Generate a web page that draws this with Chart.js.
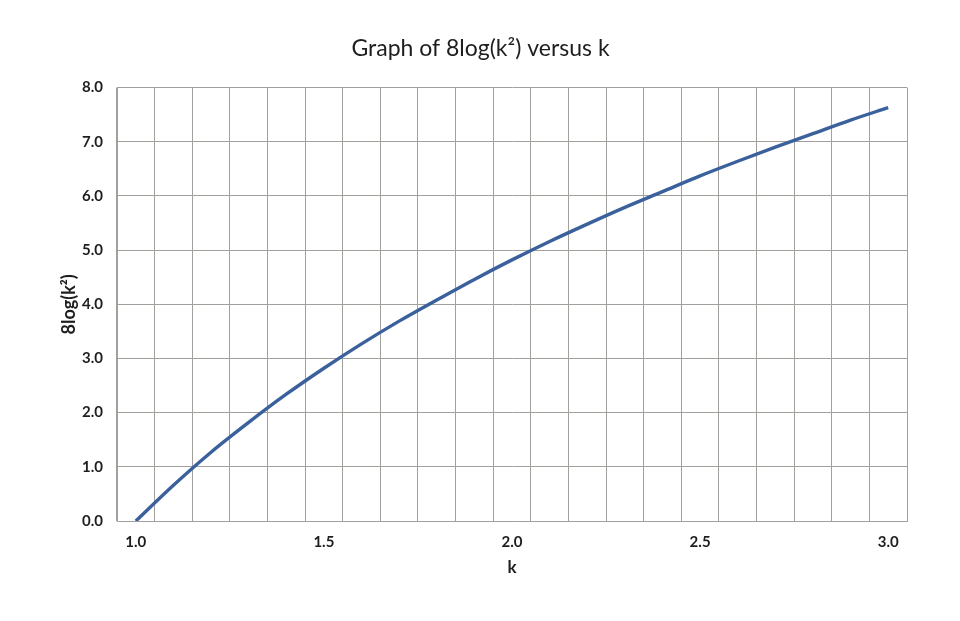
<!DOCTYPE html>
<html>
<head>
<meta charset="utf-8">
<script src="https://cdn.jsdelivr.net/npm/chart.js@4"></script>
<style>
  html, body { margin: 0; padding: 0; background: #fff; }
  canvas { display: block; }
</style>
</head>
<body>
<canvas id="kChart" width="960" height="621"></canvas>
<script>
// values
const kLabels = ['1.0', '1.1', '1.2', '1.3', '1.4', '1.5', '1.6', '1.7', '1.8', '1.9', '2.0',
                 '2.1', '2.2', '2.3', '2.4', '2.5', '2.6', '2.7', '2.8', '2.9', '3.0'];
const logValues = [0.00, 0.66, 1.27, 1.82, 2.34, 2.82, 3.27, 3.69, 4.08, 4.46, 4.82,
                   5.16, 5.48, 5.79, 6.08, 6.37, 6.64, 6.90, 7.15, 7.40, 7.63];
const yTicks = [0, 1, 2, 3, 4, 5, 6, 7, 8];

const gridColor = '#a39f9b';
const textColor = '#1e1e1e';
const fontName = 'Lato, "Open Sans", sans-serif';

const config = {
    type: 'line',
    data: {
        labels: kLabels,
        datasets: [{
            data: logValues,
            borderColor: '#3b619d',
            borderWidth: 3.4,
            pointRadius: 0,
            cubicInterpolationMode: 'monotone',
            fill: false
        }]
    },
    options: {
        responsive: false,
        animation: false,
        layout: { padding: { left: 54, right: 53, top: 10, bottom: 43 } },
        plugins: {
            legend: { display: false },
            tooltip: { enabled: false },
            title: {
                display: true,
                text: 'Graph of 8log(k²) versus k',
                color: textColor,
                font: { family: fontName, size: 23, weight: 'normal' },
                padding: { top: 25, bottom: 25 }
            }
        },
        scales: {
            x: {
                type: 'category',
                offset: true,
                afterFit: (s) => { s.height = 57; },
                grid: { offset: true, color: gridColor, lineWidth: 1, drawTicks: false },
                border: { color: gridColor, width: 1 },
                ticks: {
                    autoSkip: false,
                    maxRotation: 0,
                    padding: 12,
                    color: textColor,
                    font: { family: fontName, size: 15, weight: 'bold' },
                    callback: (v, i) => (i % 5 === 0 ? kLabels[i] : '')
                },
                title: {
                    display: true,
                    text: 'k',
                    color: textColor,
                    font: { family: fontName, size: 17, weight: 'bold' },
                    padding: { top: 4, bottom: 0 }
                }
            },
            y: {
                min: yTicks[0],
                max: yTicks[yTicks.length - 1],
                afterFit: (s) => { s.width = 63; },
                afterBuildTicks: (s) => { s.ticks = yTicks.map(v => ({ value: v })); },
                grid: { color: gridColor, lineWidth: 1, drawTicks: false },
                border: { color: gridColor, width: 1 },
                ticks: {
                    padding: 14,
                    color: textColor,
                    font: { family: fontName, size: 15, weight: 'bold' },
                    callback: (v) => Number(v).toFixed(1)
                },
                title: {
                    display: true,
                    text: '8log(k²)',
                    color: textColor,
                    font: { family: fontName, size: 18, weight: 'bold' },
                    padding: { top: 4, bottom: 0 }
                }
            }
        }
    }
};

new Chart(document.getElementById('kChart'), config);
</script>
</body>
</html>
